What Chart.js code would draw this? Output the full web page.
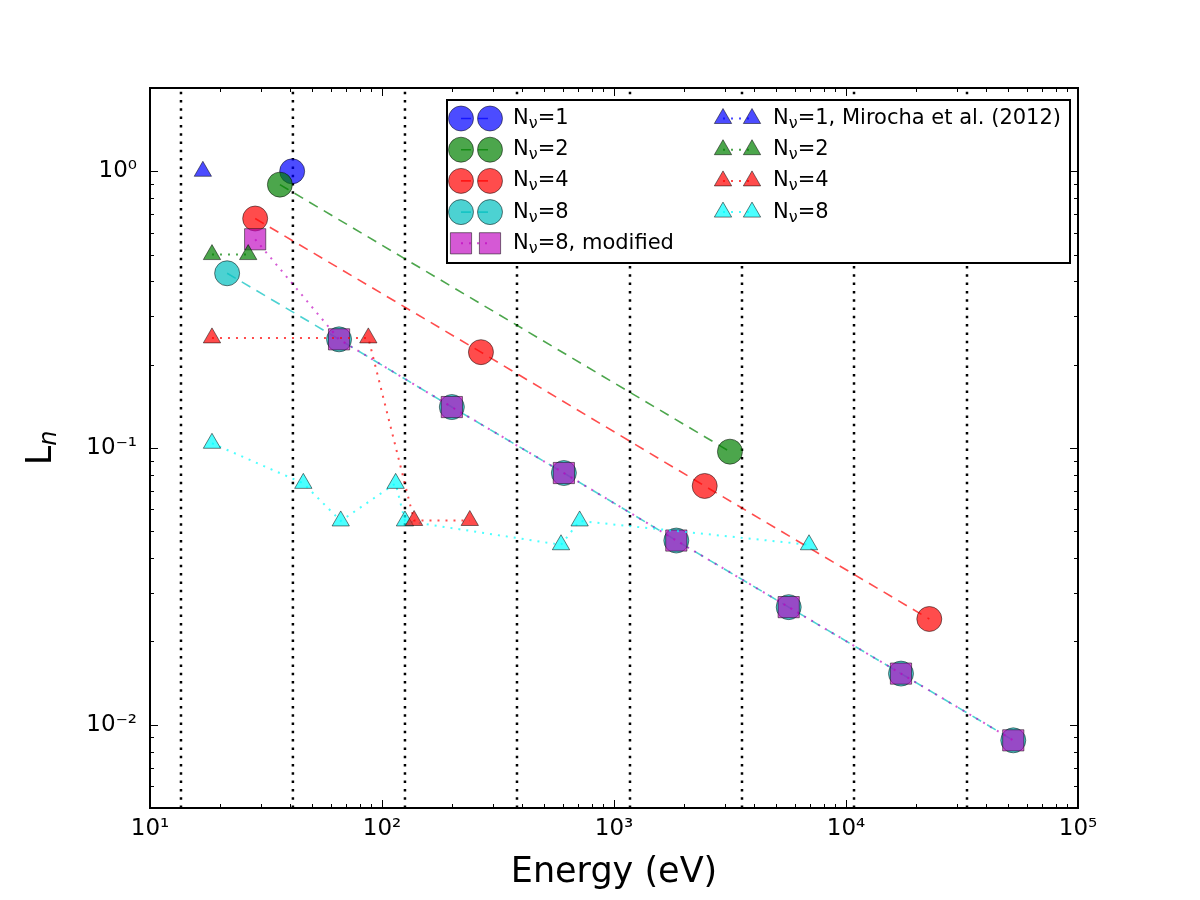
<!DOCTYPE html>
<html>
<head>
<meta charset="utf-8">
<script src="https://cdn.jsdelivr.net/npm/chart.js@4.4.1/dist/chart.umd.min.js"></script>
<style>
  html, body { margin: 0; padding: 0; background: #fff; }
  canvas { display: block; }
</style>
</head>
<body>
<canvas id="chart" width="1200" height="900"></canvas>
<script>
// bin edges (dotted verticals)
const edgeEnergies = [13.6, 41.3, 125.6, 381.8, 1172, 3562, 10828, 33230];

// this work (circles / squares)
const n1Energy = [41];
const n1Ln = [1.0];
const n2Energy = [36.3, 3160];
const n2Ln = [0.895, 0.097];
const n4Energy = [28.4, 267, 2460, 22860];
const n4Ln = [0.675, 0.222, 0.0729, 0.0241];
const n8Energy = [21.5, 65.3, 200, 608, 1856, 5663, 17260, 52600];
const n8Ln = [0.428, 0.247, 0.1406, 0.0812, 0.0463, 0.0266, 0.0153, 0.00878];
const n8modEnergy = [28.4, 65.3, 200, 608, 1856, 5663, 17260, 52600];
const n8modLn = [0.568, 0.247, 0.1406, 0.0812, 0.0463, 0.0266, 0.0153, 0.00878];

// Mirocha et al. (2012) (triangles)
const m1Energy = [16.9];
const m1Ln = [1.0];
const m2Energy = [18.5, 26.5];
const m2Ln = [0.5, 0.5];
const m4Energy = [18.5, 87.3, 137.5, 239];
const m4Ln = [0.25, 0.25, 0.0547, 0.0547];
const m8Energy = [18.5, 45.8, 66.4, 114.5, 125.6, 591, 711, 6927];
const m8Ln = [0.104, 0.0745, 0.0545, 0.0745, 0.0545, 0.0447, 0.0545, 0.0447];

const xTicks = [1e1, 1e2, 1e3, 1e4, 1e5];
const xTickLabels = ["10\u00b9", "10\u00b2", "10\u00b3", "10\u2074", "10\u2075"];
const yTicks = [1e-2, 1e-1, 1e0];
const yTickLabels = ["10\u207b\u00b2", "10\u207b\u00b9", "10\u2070"];
const xRange = [10, 1e5];
const yRange = [0.005, 2];

const FONT = "DejaVu Sans";
const EDGE = "rgba(0,0,0,0.5)";
const DASHED = [10, 7];
const DOTTED = [2, 6];

function points(xs, ys) {
    return xs.map((x, i) => ({ x: x, y: ys[i] }));
}

function series(label, xs, ys, color, style, radius, dash, order) {
    return {
        label: label,
        data: points(xs, ys),
        showLine: true,
        borderColor: color,
        borderWidth: dash === DOTTED ? 2 : 1.6,
        borderDash: dash,
        backgroundColor: color,
        pointStyle: style,
        pointRadius: radius,
        pointHoverRadius: radius,
        pointBackgroundColor: color,
        pointBorderColor: EDGE,
        pointBorderWidth: 1,
        order: order
    };
}

const edgeSets = edgeEnergies.map(e => ({
    label: "edge",
    data: points([e, e], yRange),
    showLine: true,
    borderColor: "#000",
    borderWidth: 2.5,
    borderDash: [2.5, 5.8],
    pointRadius: 0,
    order: 100
}));

const mainSets = [
    series("N\u03bd=1", n1Energy, n1Ln, "rgba(0,0,255,0.7)", "circle", 12.5, DASHED, 9),
    series("N\u03bd=2", n2Energy, n2Ln, "rgba(0,128,0,0.7)", "circle", 12.5, DASHED, 8),
    series("N\u03bd=4", n4Energy, n4Ln, "rgba(255,0,0,0.7)", "circle", 12.5, DASHED, 7),
    series("N\u03bd=8", n8Energy, n8Ln, "rgba(0,191,191,0.7)", "circle", 12.5, DASHED, 6),
    series("N\u03bd=8, modified", n8modEnergy, n8modLn, "rgba(191,0,191,0.65)", "rect", 15, DOTTED, 5),
    series("N\u03bd=1, Mirocha et al. (2012)", m1Energy, m1Ln, "rgba(0,0,255,0.7)", "triangle", 10, DOTTED, 4),
    series("N\u03bd=2", m2Energy, m2Ln, "rgba(0,128,0,0.7)", "triangle", 10, DOTTED, 3),
    series("N\u03bd=4", m4Energy, m4Ln, "rgba(255,0,0,0.7)", "triangle", 10, DOTTED, 1),
    series("N\u03bd=8", m8Energy, m8Ln, "rgba(0,255,255,0.7)", "triangle", 10, DOTTED, 2)
];

// N with subscript nu, then the rest
function drawNuLabel(ctx, text, x, y, size) {
    ctx.font = `${size}px "${FONT}"`;
    ctx.fillText("N", x, y);
    x += ctx.measureText("N").width;
    const sub = Math.round(size * 0.75);
    ctx.font = `${sub}px "${FONT}"`;
    ctx.fillText("\u03bd", x, y + size * 0.25);
    x += ctx.measureText("\u03bd").width;
    ctx.font = `${size}px "${FONT}"`;
    ctx.fillText(text.slice(2), x, y);
}

const decor = {
    id: "decor",
    afterDraw(chart) {
        const ctx = chart.ctx;
        const a = chart.chartArea;
        const xs = chart.scales.x;
        const ys = chart.scales.y;
        ctx.save();

        // ticks, inside, all four sides
        ctx.strokeStyle = "#000";
        ctx.lineWidth = 1;
        ctx.beginPath();
        for (let d = 1; d <= 5; d++) {
            for (let k = 1; k <= 9; k++) {
                const v = k * Math.pow(10, d);
                if (v < xRange[0] || v > xRange[1]) continue;
                const px = Math.round(xs.getPixelForValue(v)) + 0.5;
                const len = k === 1 ? 8 : 4;
                ctx.moveTo(px, a.bottom); ctx.lineTo(px, a.bottom - len);
                ctx.moveTo(px, a.top); ctx.lineTo(px, a.top + len);
            }
        }
        for (let d = -3; d <= 0; d++) {
            for (let k = 1; k <= 9; k++) {
                const v = k * Math.pow(10, d);
                if (v < yRange[0] || v >= yRange[1]) continue;
                const py = Math.round(ys.getPixelForValue(v)) + 0.5;
                const len = k === 1 ? 8 : 4;
                ctx.moveTo(a.left, py); ctx.lineTo(a.left + len, py);
                ctx.moveTo(a.right, py); ctx.lineTo(a.right - len, py);
            }
        }
        ctx.stroke();

        ctx.lineWidth = 2;
        ctx.strokeRect(a.left, a.top, a.right - a.left, a.bottom - a.top);

        // y title: L with italic subscript n
        ctx.translate(42, (a.top + a.bottom) / 2);
        ctx.rotate(-Math.PI / 2);
        ctx.fillStyle = "#000";
        ctx.textBaseline = "middle";
        ctx.font = `35px "${FONT}"`;
        const lw = ctx.measureText("L").width;
        ctx.font = `italic 24px "${FONT}"`;
        const nw = ctx.measureText("n").width;
        const x0 = -(lw + nw) / 2;
        ctx.font = `35px "${FONT}"`;
        ctx.fillText("L", x0, 0);
        ctx.font = `italic 24px "${FONT}"`;
        ctx.fillText("n", x0 + lw, 8);
        ctx.setTransform(1, 0, 0, 1, 0, 0);

        // legend
        const box = { left: 447, top: 100, right: 1070, bottom: 263 };
        ctx.fillStyle = "#fff";
        ctx.fillRect(box.left, box.top, box.right - box.left, box.bottom - box.top);
        ctx.strokeStyle = "#000";
        ctx.lineWidth = 2;
        ctx.strokeRect(box.left, box.top, box.right - box.left, box.bottom - box.top);

        const cols = [{ m1: 461, m2: 490, text: 513 }, { m1: 723, m2: 752, text: 773 }];
        const ds = chart.data.datasets.filter(d => d.label !== "edge");
        ds.forEach((d, i) => {
            const col = cols[i < 5 ? 0 : 1];
            const row = i < 5 ? i : i - 5;
            const y = 118.5 + row * 31.2;
            ctx.save();
            ctx.strokeStyle = d.borderColor;
            ctx.lineWidth = d.borderWidth;
            ctx.setLineDash(d.borderDash);
            ctx.beginPath();
            ctx.moveTo(col.m1, y);
            ctx.lineTo(col.m2, y);
            ctx.stroke();
            ctx.restore();
            [col.m1, col.m2].forEach(mx => {
                ctx.fillStyle = d.pointBackgroundColor;
                ctx.strokeStyle = d.pointBorderColor;
                ctx.lineWidth = d.pointBorderWidth;
                Chart.helpers.drawPoint(ctx, {
                    pointStyle: d.pointStyle,
                    radius: d.pointRadius,
                    rotation: 0,
                    borderWidth: d.pointBorderWidth
                }, mx, y);
            });
            ctx.fillStyle = "#000";
            ctx.textBaseline = "middle";
            drawNuLabel(ctx, d.label, col.text, y, 21);
        });

        ctx.restore();
    }
};

const ctx = document.getElementById("chart").getContext("2d");

new Chart(ctx, {
    type: "scatter",
    data: { datasets: edgeSets.concat(mainSets) },
    options: {
        responsive: false,
        animation: false,
        devicePixelRatio: 1,
        layout: { padding: { left: 0, right: 122, top: 88, bottom: 0 } },
        plugins: {
            legend: { display: false },
            tooltip: { enabled: false }
        },
        scales: {
            x: {
                type: "logarithmic",
                min: xRange[0],
                max: xRange[1],
                afterBuildTicks: s => { s.ticks = xTicks.map(v => ({ value: v })); },
                afterFit: s => { s.height = 92; },
                grid: { display: false, drawTicks: false },
                border: { display: false },
                ticks: {
                    color: "#000",
                    font: { family: FONT, size: 23 },
                    padding: 7,
                    maxRotation: 0,
                    autoSkip: false,
                    callback: (v, i) => xTickLabels[i]
                },
                title: {
                    display: true,
                    text: "Energy (eV)",
                    color: "#000",
                    font: { family: FONT, size: 35 },
                    padding: { top: 0, bottom: 6 }
                }
            },
            y: {
                type: "logarithmic",
                min: yRange[0],
                max: yRange[1],
                afterBuildTicks: s => { s.ticks = yTicks.map(v => ({ value: v })); },
                afterFit: s => { s.width = 150; },
                grid: { display: false, drawTicks: false },
                border: { display: false },
                ticks: {
                    color: "#000",
                    font: { family: FONT, size: 23 },
                    padding: 13,
                    autoSkip: false,
                    callback: (v, i) => yTickLabels[i]
                }
            }
        }
    },
    plugins: [decor]
});
</script>
</body>
</html>
